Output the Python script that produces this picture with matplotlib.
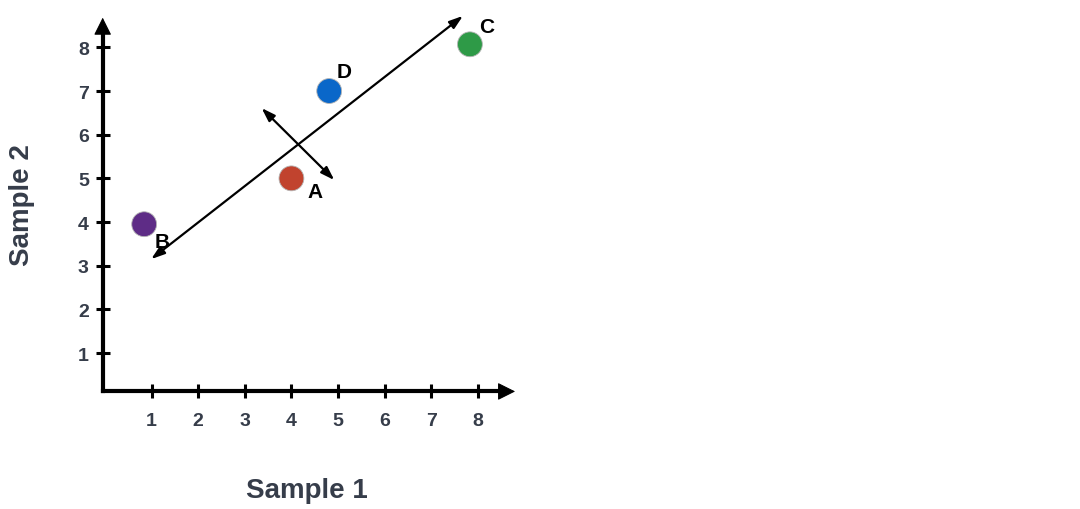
import matplotlib.pyplot as plt

# points in the (Sample 1, Sample 2) plane
names = ["A", "B", "C", "D"]
sample1 = [4.0, 0.84, 7.83, 4.81]
sample2 = [5.0, 3.95, 8.07, 7.0]
colors = ["#c1432e", "#5e2c86", "#2e9a47", "#0a67c9"]
# label offsets in points (x, y)
label_offsets = [(17, -9.5), (13, -12.5), (12, 13), (11, 14)]

# the two direction arrows (start, end)
long_arrow = [(0.99, 3.15), (7.68, 8.72)]
short_arrow = [(3.36, 6.61), (4.92, 4.96)]

ticks = [1, 2, 3, 4, 5, 6, 7, 8]
text_color = "#363d4a"

plt.rcParams["font.family"] = ["Liberation Sans", "DejaVu Sans"]
plt.rcParams["font.weight"] = "bold"

fig = plt.figure(figsize=(10.8, 5.1), dpi=100)
ax = fig.add_axes([0, 0, 1, 1])
ax.set_xlim(-2.253, 20.92)
ax.set_ylim(-2.572, 9.107)

# axes drawn as spines through the origin
for side in ["top", "right"]:
    ax.spines[side].set_visible(False)
ax.spines["left"].set_position(("data", -0.05))
ax.spines["bottom"].set_position(("data", 0.12))
ax.spines["left"].set_bounds(0.12, 8.4)
ax.spines["bottom"].set_bounds(-0.05, 8.5)
for side in ["left", "bottom"]:
    ax.spines[side].set_linewidth(3)
    ax.spines[side].set_capstyle("projecting")

# arrowheads at the axis ends
head = dict(arrowstyle="-|>,head_length=1.1,head_width=0.55",
            color="black", lw=0.8, mutation_scale=10, shrinkA=0, shrinkB=0)
ax.annotate("", xy=(8.8, 0.12), xytext=(8.3, 0.12), arrowprops=head)
ax.annotate("", xy=(-0.05, 8.68), xytext=(-0.05, 8.2), arrowprops=head)

ax.set_xticks(ticks)
ax.set_yticks(ticks)
ax.tick_params(direction="inout", length=10, width=2.2, colors="black",
               labelcolor=text_color, labelsize=14)
ax.tick_params(axis="x", pad=10)
ax.tick_params(axis="y", pad=5)
for lab in ax.get_xticklabels() + ax.get_yticklabels():
    lab.set_fontweight("bold")

# direction arrows
for (x0, y0), (x1, y1) in [long_arrow, short_arrow]:
    ax.annotate("", xy=(x1, y1), xytext=(x0, y0),
                arrowprops=dict(arrowstyle="<|-|>,head_length=0.9,head_width=0.3",
                                color="black", lw=1.6, mutation_scale=9,
                                shrinkA=0, shrinkB=0))

# points and their letters
ax.scatter(sample1, sample2, s=320, c=colors, edgecolors="#b5b5b5",
           linewidths=0.6, zorder=3)
for name, x, y, (dx, dy) in zip(names, sample1, sample2, label_offsets):
    ax.annotate(name, (x, y), xytext=(dx, dy), textcoords="offset points",
                ha="center", va="center", fontsize=15, fontweight="bold",
                color="black")

fig.text(307 / 1080, 1 - 491 / 510, "Sample 1", ha="center", va="center",
         fontsize=20, fontweight="bold", color=text_color)
fig.text(22 / 1080, 1 - 205 / 510, "Sample 2", ha="center", va="center",
         rotation=90, fontsize=20, fontweight="bold", color=text_color)

fig.savefig("out.png", dpi=100)
